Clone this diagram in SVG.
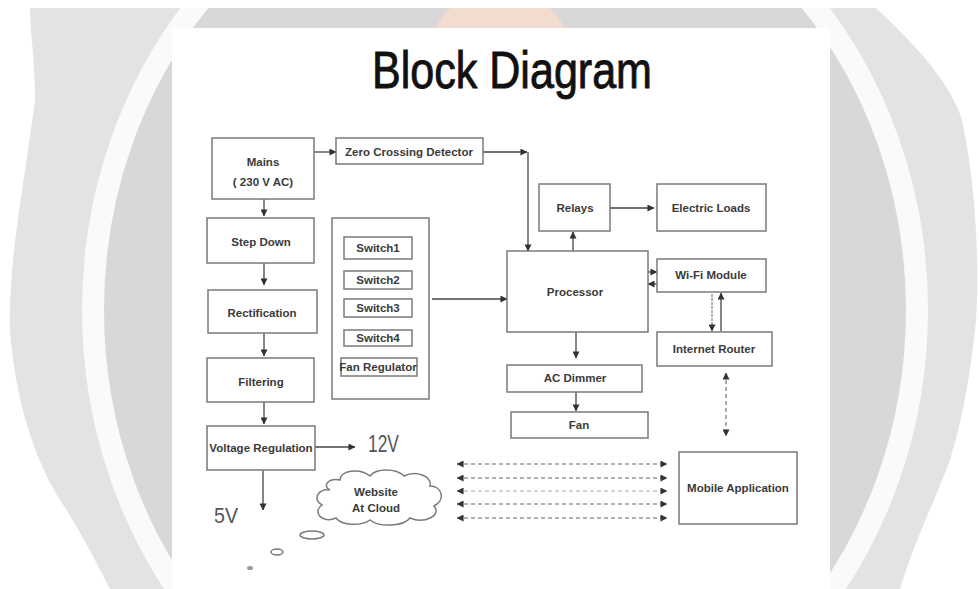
<svg xmlns="http://www.w3.org/2000/svg" width="979" height="589" viewBox="0 0 979 589">
<defs>
<style>
.box{fill:#fff;stroke:#7a7a7a;stroke-width:1.5}
.t{font-family:"Liberation Sans",Arial,sans-serif;font-size:11.5px;font-weight:bold;fill:#3a3a3a;text-anchor:middle}
.big{font-family:"Liberation Sans",Arial,sans-serif;fill:#555;font-weight:normal}
.ln{fill:none;stroke:#444;stroke-width:1.3}
.dash{fill:none;stroke:#666;stroke-width:1.1;stroke-dasharray:4 3}
</style>
<marker id="ah" viewBox="0 0 8 8" refX="7.5" refY="4" markerWidth="7" markerHeight="7" markerUnits="userSpaceOnUse" orient="auto-start-reverse">
<path d="M0,0 L8,4 L0,8 z" fill="#333"/>
</marker>
<clipPath id="wmclip"><rect x="0" y="8" width="979" height="581"/></clipPath>
</defs>
<rect width="979" height="589" fill="#fff"/>
<g id="watermark" clip-path="url(#wmclip)">
<path d="M30,8 L876,8 C910,40 950,80 962,120 C975,180 980,260 976,320 C970,380 962,420 950,460 C935,500 915,540 900,589 L110,589 C95,560 80,530 60,500 C35,460 15,400 10,330 C8,260 25,180 35,100 C35,60 30,30 30,8 Z" fill="#e3e3e3"/>
<ellipse cx="505" cy="310" rx="412" ry="460" fill="#d8d8d8" stroke="#fafafa" stroke-width="22"/>
<ellipse cx="500" cy="40" rx="66" ry="48" fill="#f2dccf"/>
</g>
<rect id="panel" x="172" y="28" width="658" height="561" fill="#fff"/>
<text x="512" y="88" class="big" font-size="52" text-anchor="middle" textLength="280" lengthAdjust="spacingAndGlyphs" style="fill:#111;stroke:#111;stroke-width:0.9">Block Diagram</text>

<g id="connectors">
<path class="ln" d="M314,152 H336" marker-end="url(#ah)"/>
<path class="ln" d="M483,152 H527" marker-end="url(#ah)"/>
<path class="ln" d="M528,152 V251" marker-end="url(#ah)"/>
<path class="ln" d="M573,251 V232" marker-end="url(#ah)"/>
<path class="ln" d="M610,208 H654" marker-end="url(#ah)"/>
<path class="ln" d="M648,272 H657" marker-end="url(#ah)"/>
<path class="ln" d="M657,284 H648" marker-end="url(#ah)"/>
<path class="ln" d="M712,294 V331" stroke-dasharray="3 1" style="stroke:#888" marker-end="url(#ah)"/>
<path class="ln" d="M721,331 V293" marker-end="url(#ah)"/>
<path class="dash" d="M726,373 V436" stroke-dasharray="5 2 1 2" marker-start="url(#ah)" marker-end="url(#ah)"/>
<path class="ln" d="M432,299 H507" marker-end="url(#ah)"/>
<path class="ln" d="M576,332 V358" marker-end="url(#ah)"/>
<path class="ln" d="M576,392 V411" marker-end="url(#ah)"/>
<path class="ln" d="M264,199 V216" marker-end="url(#ah)"/>
<path class="ln" d="M264,263 V285" marker-end="url(#ah)"/>
<path class="ln" d="M264,333 V356" marker-end="url(#ah)"/>
<path class="ln" d="M264,402 V424" marker-end="url(#ah)"/>
<path class="ln" d="M315,447 H355" marker-end="url(#ah)"/>
<path class="ln" d="M263,470 V510" marker-end="url(#ah)"/>
<path class="dash" d="M457,464 H667" marker-start="url(#ah)" marker-end="url(#ah)"/>
<path class="dash" d="M457,478 H667" marker-start="url(#ah)" marker-end="url(#ah)"/>
<path class="dash" d="M457,491 H667" style="stroke:#aaa" marker-start="url(#ah)" marker-end="url(#ah)"/>
<path class="dash" d="M457,504 H667" marker-start="url(#ah)" marker-end="url(#ah)"/>
<path class="dash" d="M457,518 H667" marker-start="url(#ah)" marker-end="url(#ah)"/>
</g>

<g id="mains"><rect class="box" x="212" y="138" width="102" height="61"/><text class="t" x="263" y="166">Mains</text><text class="t" x="263" y="186">( 230 V AC)</text></g>
<g id="zcd"><rect class="box" x="336" y="138" width="147" height="26"/><text class="t" x="409" y="156">Zero Crossing Detector</text></g>
<g id="stepdown"><rect class="box" x="207" y="218" width="107" height="45"/><text class="t" x="261" y="246">Step Down</text></g>
<g id="rectification"><rect class="box" x="208" y="290" width="109" height="43"/><text class="t" x="262" y="317">Rectification</text></g>
<g id="filtering"><rect class="box" x="207" y="358" width="107" height="44"/><text class="t" x="261" y="386">Filtering</text></g>
<g id="voltreg"><rect class="box" x="207" y="426" width="108" height="44"/><text class="t" x="261" y="452">Voltage Regulation</text></g>
<g id="v12"><text class="big" x="368" y="452" font-size="23" textLength="31" lengthAdjust="spacingAndGlyphs">12V</text></g>
<g id="v5"><text class="big" x="214" y="523" font-size="22" textLength="24" lengthAdjust="spacingAndGlyphs">5V</text></g>

<g id="switchpanel"><rect class="box" x="332" y="218" width="97" height="181"/></g>
<g id="switch1"><rect class="box" x="344" y="237" width="68" height="22"/><text class="t" x="378" y="252">Switch1</text></g>
<g id="switch2"><rect class="box" x="344" y="271" width="68" height="18"/><text class="t" x="378" y="284">Switch2</text></g>
<g id="switch3"><rect class="box" x="344" y="299" width="68" height="18"/><text class="t" x="378" y="312">Switch3</text></g>
<g id="switch4"><rect class="box" x="344" y="330" width="68" height="16"/><text class="t" x="378" y="342">Switch4</text></g>
<g id="fanreg"><rect class="box" x="341" y="358" width="76" height="18"/><text class="t" x="378" y="371">Fan Regulator</text></g>

<g id="relays"><rect class="box" x="539" y="184" width="71" height="47"/><text class="t" x="575" y="212">Relays</text></g>
<g id="loads"><rect class="box" x="657" y="184" width="109" height="47"/><text class="t" x="711" y="212">Electric Loads</text></g>
<g id="processor"><rect class="box" x="507" y="251" width="141" height="81"/><text class="t" x="575" y="296">Processor</text></g>
<g id="wifi"><rect class="box" x="657" y="259" width="109" height="33"/><text class="t" x="711" y="279">Wi-Fi Module</text></g>
<g id="router"><rect class="box" x="657" y="332" width="115" height="34"/><text class="t" x="714" y="353">Internet Router</text></g>
<g id="acdimmer"><rect class="box" x="507" y="365" width="135" height="27"/><text class="t" x="575" y="382">AC Dimmer</text></g>
<g id="fan"><rect class="box" x="511" y="412" width="137" height="26"/><text class="t" x="579" y="429">Fan</text></g>
<g id="mobile"><rect class="box" x="679" y="452" width="118" height="72"/><text class="t" x="738" y="492">Mobile Application</text></g>

<g id="cloud">
<path class="box" d="M330,490 C318,488 312,500 322,505 C312,512 322,524 336,518 C342,526 362,526 370,520 C380,528 404,526 410,518 C424,524 442,516 434,506 C446,500 442,486 430,486 C432,476 416,470 404,476 C396,468 376,468 370,476 C360,468 340,470 340,480 C328,478 322,486 330,490 Z"/>
<text class="t" x="376" y="496">Website</text><text class="t" x="376" y="512">At Cloud</text>
<ellipse class="box" cx="312" cy="535" rx="12" ry="4"/>
<ellipse class="box" cx="277" cy="552" rx="6" ry="3"/>
<ellipse cx="250" cy="568" rx="3" ry="2" fill="#999"/>
</g>
</svg>
